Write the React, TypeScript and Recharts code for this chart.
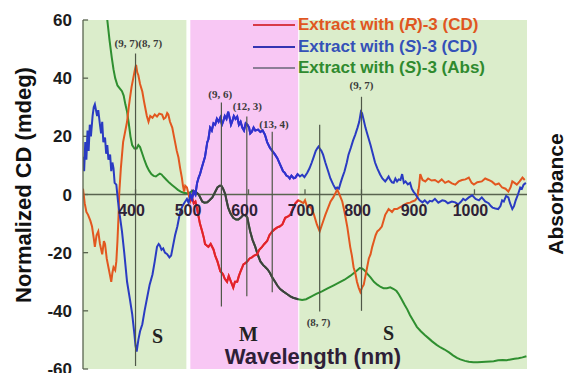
import React from 'react';
import { LineChart, Line, XAxis, YAxis, ReferenceArea, ReferenceLine, ReferenceDot } from 'recharts';

// wavelength (nm), normalized CD (mdeg)
const cdR: [number, number][] = [
  [307, 2], [310, -3], [313, -6], [316, -7], [320, -9], [323, -11], [326, -15], [328, -18], [331, -14],
  [334, -12.7], [337, -17], [341, -20.6], [344, -16], [346, -17], [349, -22], [352, -25], [355, -28],
  [357, -30], [359, -27], [361, -25], [364, -26], [366, -23], [368, -16], [370, -7], [371, 0], [374, 9],
  [378, 18], [381, 21], [385, 25], [388, 30], [390, 33], [393, 37], [396, 40], [399, 43], [401, 44.6],
  [403, 42], [405, 41], [408, 38], [412, 35.4], [415, 32], [417, 30], [420, 27], [423, 25], [426, 27],
  [430, 26.4], [434, 27.5], [438, 26.8], [442, 27.8], [447, 27.5], [450, 26], [453, 26.4], [456, 28],
  [458, 27.5], [461, 25], [465, 23], [468, 20], [470, 18], [473, 15], [476, 12.7], [479, 9], [482, 5.8],
  [484, 3], [486, 1], [488, 3], [491, 2.4], [494, 0], [497, -2.4], [500, -1], [503, -3], [506, -2.4],
  [509, -5], [511, -7], [514, -10], [518, -12.7], [521, -15], [523, -17], [526, -17.5], [529, -18],
  [533, -17], [538, -18.9], [541, -21], [545, -23], [548, -25], [550, -26.4], [553, -27], [555, -27.5],
  [558, -29], [562, -30], [565, -28], [568, -29.5], [571, -31], [573, -32], [576, -30], [580, -30],
  [583, -28], [586, -26.4], [589, -25], [591, -24], [595, -23.5], [598, -23], [602, -22], [606, -21.6],
  [610, -21], [615, -20.6], [619, -19], [624, -18], [628, -17], [633, -16], [637, -14], [642, -12.7],
  [646, -12], [651, -11.3], [655, -11], [660, -10.3], [665, -8], [670, -7.5], [674, -7], [679, -4.5],
  [683, -3], [688, -2], [692, -2.4], [697, -3], [700, -2], [704, -4.5], [708, -4], [712, -5], [716, -7],
  [721, -10.3], [726, -12.7], [729, -11], [732, -9.3], [736, -7], [741, -4.5], [745, -2.5], [750, -1],
  [754, 0.5], [757, 1.7], [761, 0], [766, -2.4], [770, -6], [775, -11.3], [780, -18], [783, -21],
  [786, -25], [789, -27], [792, -30], [795, -32], [798, -33.5], [801, -32], [804, -31], [807, -28],
  [810, -25], [813, -22], [816, -20.6], [819, -18], [822, -16], [825, -14], [828, -12.7], [832, -12],
  [836, -11], [839, -9], [842, -7], [845, -6], [848, -5], [851, -5.5], [854, -6], [858, -5], [863, -5],
  [867, -4.5], [872, -4], [876, -3.5], [881, -3], [886, -2.8], [890, -2.4], [895, -2], [899, -1],
  [902, 3], [904, 7], [908, 5], [913, 4.5], [918, 5.5], [924, 4.8], [930, 5], [936, 4.2], [942, 5.2],
  [948, 4], [954, 4.6], [960, 3.8], [966, 3.4], [972, 4.5], [978, 5], [984, 5.2], [990, 5.8], [995, 4],
  [999, 3.4], [1005, 4.2], [1013, 4.5], [1019, 5.5], [1025, 5], [1031, 4.4], [1037, 3.4], [1043, 3.8],
  [1049, 2.4], [1055, 2], [1060, 1], [1064, 2.5], [1067, 4.5], [1071, 4], [1075, 3.4], [1080, 4.5],
  [1085, 5.8], [1089, 5],
];

const cdS: [number, number][] = [
  [307, 13], [309, 8], [311, 18], [313, 12], [315, 22], [317, 15], [319, 24], [321, 20], [324, 27],
  [326, 30], [328, 31], [330, 29], [332, 27], [334, 29], [337, 24], [339, 21], [341, 25], [343, 18],
  [346, 19.6], [348, 14], [350, 17], [352, 12], [355, 13.7], [357, 8], [359, 11], [361, 9], [363, 4],
  [366, 3.4], [369, -2.4], [372, -7], [376, -12.7], [380, -20], [385, -30], [390, -36], [394, -41],
  [398, -48], [400, -52], [402, -54], [405, -50], [408, -47], [412, -44.6], [416, -40], [421, -35],
  [425, -31], [430, -27.5], [434, -23], [438, -18], [441, -17], [443, -17.5], [446, -19], [449, -18.5],
  [452, -20], [456, -20.5], [460, -21.6], [463, -21], [466, -18], [470, -14], [474, -11], [477, -8],
  [479, -6], [483, -4], [486, -3], [488, -2.4], [491, -1.5], [494, -3], [497, 0], [500, -1.5], [503, 1],
  [506, 0], [509, 4], [512, 6], [514, 6.9], [517, 9], [520, 11], [523, 13], [527, 18], [529, 19],
  [532, 23], [535, 22], [538, 24.5], [541, 24], [544, 26], [547, 25], [550, 26.4], [553, 24], [555, 25],
  [558, 27], [561, 26], [564, 28.5], [567, 26], [569, 24], [571, 25], [574, 27], [577, 26], [580, 26.8],
  [583, 24], [586, 25], [589, 23], [592, 22], [595, 24.5], [598, 24], [601, 23], [603, 21], [606, 21.6],
  [609, 23], [612, 22], [617, 22.3], [621, 21.5], [625, 22], [629, 20.6], [633, 18], [638, 16], [642, 15],
  [647, 13.7], [651, 12.5], [656, 10.3], [659, 9], [661, 8], [664, 7.5], [667, 6.5], [670, 6.2],
  [673, 5.5], [676, 6.5], [680, 5.6], [683, 5.8], [687, 7], [691, 6.2], [695, 6.8], [699, 6], [704, 7.5],
  [708, 9], [712, 11], [715, 12.7], [719, 15], [722, 16], [724, 16.5], [727, 15.5], [729, 15],
  [732, 13.7], [736, 11], [741, 8], [745, 5.5], [750, 3.4], [754, 2], [757, 2.4], [760, 2], [763, 4],
  [766, 5.8], [770, 8], [774, 11], [777, 13.7], [781, 16], [785, 18.5], [789, 20.6], [793, 23], [796, 25],
  [799, 28.5], [801, 28], [804, 25.5], [807, 23], [810, 21], [813, 19], [816, 17], [820, 14], [824, 11],
  [828, 9], [833, 6.9], [837, 5.5], [842, 4.5], [845, 5.3], [848, 6.2], [851, 5], [854, 4.2], [857, 4],
  [860, 5.5], [863, 4.5], [866, 5.2], [869, 5], [872, 7], [875, 4], [878, 4.5], [882, 3.5], [886, 4],
  [889, 2], [892, 1], [896, 0], [899, -1], [903, -2], [908, -2.7], [912, -2], [917, -3], [921, -2.2],
  [925, -2.4], [930, -1.5], [936, -2.8], [943, -2], [948, -2.2], [953, -3], [960, -2.4], [966, -2.7],
  [971, -3.4], [976, -2.5], [980, -1.5], [984, -2], [990, -1], [996, -0.3], [1002, -1.5], [1008, -2],
  [1013, -1], [1019, -2.4], [1025, -3], [1029, -4], [1032, -4.5], [1037, -4.8], [1042, -5], [1046, -4],
  [1049, -2], [1052, -2.4], [1056, -0.5], [1060, -1], [1063, -3], [1067, -5], [1070, -4], [1073, -2],
  [1077, 0], [1081, 2.4], [1084, 2], [1087, 3.4], [1091, 4],
];

// absorbance, drawn on the CD scale like the original overlay
const absS: [number, number][] = [
  [345, 66], [350, 60], [354, 53], [358, 47], [361, 43], [364, 40], [368, 37.5], [372, 36.5],
  [376, 35.5], [379, 34], [382, 31], [385, 28.5], [388, 24.5], [391, 20], [394, 17], [398, 15.8],
  [402, 15.8], [405, 17], [408, 16.3], [412, 14], [416, 11.7], [420, 9.7], [424, 8.2], [428, 7],
  [432, 6.4], [436, 6.2], [440, 6.8], [443, 7.2], [446, 6.9], [450, 6], [455, 5], [460, 4], [465, 3.2],
  [470, 2.4], [475, 1.6], [480, 1], [485, 0.6], [490, 0.4], [495, 0.5], [500, 1.2], [506, 1],
  [512, 0], [518, -2.4], [522, -2.8], [527, -2.7], [531, -2], [536, -1], [540, 0.5], [545, 2.4],
  [549, 3], [552, 3], [555, 2], [559, 0], [561, -2], [564, -4.5], [568, -6.5], [573, -8], [578, -8.6],
  [582, -8.6], [587, -7.8], [591, -7], [595, -7.2], [598, -8], [600, -10], [603, -12.7], [607, -15.5],
  [612, -18], [616, -20.5], [621, -23], [626, -24.3], [630, -25], [634, -25.8], [638, -27], [642, -28.5],
  [647, -30], [651, -31.3], [656, -32.5], [662, -33.4], [668, -34.2], [674, -35], [679, -35.5],
  [688, -36], [695, -36.3], [702, -36], [710, -35.2], [720, -34.2], [730, -33.3], [740, -32.3],
  [750, -31.3], [760, -30.3], [770, -29.3], [780, -28], [790, -26.5], [797, -25.3], [801, -25.4],
  [805, -26], [810, -27.2], [816, -28.5], [822, -30], [828, -31], [834, -31.8], [839, -32.2],
  [845, -32.2], [851, -31.9], [857, -32.5], [862, -33.2], [866, -34.3], [871, -36], [876, -37.8],
  [881, -39.5], [886, -41.5], [892, -43.5], [898, -45.5], [905, -47], [912, -48.3], [918, -49.3],
  [925, -50.5], [933, -51.7], [940, -52.6], [947, -53.3], [955, -54.3], [962, -55.3], [969, -56.2],
  [975, -56.7], [983, -57.2], [990, -57.5], [998, -57.7], [1005, -57.7], [1013, -57.6], [1020, -57.5],
  [1028, -57.4], [1034, -57.3], [1042, -57], [1050, -56.9], [1057, -57], [1064, -56.7], [1071, -56.5],
  [1078, -56.3], [1085, -56], [1092, -55.6],
];

const xTicks = [400, 500, 600, 700, 800, 900, 1000];
const yTicks = [-60, -40, -20, 0, 20, 40, 60];
const absTicks = [0, 1, 2, 3, 4, 5, 6, 7, 8];

// chirality assignments: wavelength, line top / bottom (mdeg), label
const assignments = [
  { nm: 400, top: 48.5, bottom: -59, label: '(9, 7)(8, 7)', lx: 405, ly: 52.2 },
  { nm: 552, top: 31.6, bottom: -38.5, label: '(9, 6)', lx: 550, ly: 34.4 },
  { nm: 597, top: 26.8, bottom: -35, label: '(12, 3)', lx: 598, ly: 30.3 },
  { nm: 642, top: 21.6, bottom: -33.6, label: '(13, 4)', lx: 645, ly: 24.1 },
  { nm: 726, top: 24, bottom: -40.2, label: '(8, 7)', lx: 724, ly: -44 },
  { nm: 800, top: 33.6, bottom: -40, label: '(9, 7)', lx: 800, ly: 37.8 },
];

const regions = [
  { from: 307, to: 490, name: 'S', lx: 439, ly: -48.8, fill: '#dbedcb' },
  { from: 497, to: 688, name: 'M', lx: 600, ly: -48.1, fill: '#f8c7f4' },
  { from: 690, to: 1093, name: 'S', lx: 848, ly: -47.5, fill: '#dbedcb' },
];

const PINK_FROM = 497;
const PINK_TO = 688;
const AXIS = '#59644f';
const SANS = '"Liberation Sans", Arial, sans-serif';
const SERIF = '"Liberation Serif", "Times New Roman", serif';

const toRows = (pts: [number, number][]) => pts.map(([x, v]) => ({ x, v }));
const inPink = (pts: [number, number][]) => toRows(pts.filter(([x]) => x >= PINK_FROM && x <= PINK_TO));

const Tag = (props: any) => {
  const { viewBox, text, dx = 0, size = 11, color = '#3b3b3b', font = SERIF, weight = 700 } = props;
  if (!viewBox) return null;
  const cx = viewBox.x + (viewBox.width || 0) / 2;
  const cy = viewBox.y + (viewBox.height || 0) / 2;
  return (
    <text x={cx + dx} y={cy} textAnchor="middle" dominantBaseline="central"
      fontFamily={font} fontWeight={weight} fontSize={size} fill={color}>
      {text}
    </text>
  );
};

const legendRows = [
  { line: '#d83a48', color: '#e0561f', pre: 'Extract with (', it: 'R', post: ')-3 (CD)' },
  { line: '#3535b2', color: '#3451b8', pre: 'Extract with (', it: 'S', post: ')-3 (CD)' },
  { line: '#8c7e96', color: '#2f8a2f', pre: 'Extract with (', it: 'S', post: ')-3 (Abs)' },
];

export default function App() {
  return (
    <div style={{ position: 'absolute', left: 0, top: 0, width: 569, height: 373, background: '#fff', overflow: 'hidden' }}>
      <LineChart width={569} height={373} margin={{ top: 20, right: 42, bottom: 4, left: 0 }}>
        <XAxis type="number" dataKey="x" domain={[307, 1093]} allowDataOverflow hide />
        <YAxis
          domain={[-60, 60]}
          ticks={yTicks}
          interval={0}
          allowDataOverflow
          width={83}
          tickLine={false}
          tickSize={6}
          tickMargin={5}
          axisLine={{ stroke: AXIS, strokeWidth: 1.3 }}
          tick={{ fill: '#1c1c1c', fontSize: 17, fontWeight: 700, fontFamily: SANS }}
        />
        <YAxis yAxisId="r" orientation="right" domain={[-0.35, 8]} width={0} tick={false} tickLine={false}
          axisLine={{ stroke: AXIS, strokeWidth: 1.3 }} />

        {regions.map((r, i) => (
          <ReferenceArea key={'ra' + i} x1={r.from} x2={r.to} y1={-60} y2={60} fill={r.fill} fillOpacity={1} stroke="none" />
        ))}

        <ReferenceLine y={0} stroke={AXIS} strokeWidth={1.3} />
        {xTicks.map((t) => (
          <ReferenceLine key={'xt' + t} segment={[{ x: t, y: 0 }, { x: t, y: 1.8 }]} stroke={AXIS} strokeWidth={1.3} />
        ))}
        {yTicks.map((t) => (
          <ReferenceLine key={'yt' + t} segment={[{ x: 307, y: t }, { x: 316, y: t }]} stroke={AXIS} strokeWidth={1.3} />
        ))}
        {absTicks.map((t) => (
          <ReferenceLine key={'at' + t} yAxisId="r" segment={[{ x: 1084, y: t }, { x: 1093, y: t }]} stroke={AXIS} strokeWidth={1.3} />
        ))}
        {xTicks.map((t) => (
          <ReferenceDot key={'xl' + t} x={t} y={-5.5} r={0} fill="none" stroke="none"
            label={<Tag text={String(t)} dx={-4} size={16} font={SANS} color="#2f2236" />} />
        ))}

        <Line data={toRows(absS)} dataKey="v" stroke="#2f8f30" strokeWidth={2} dot={false} isAnimationActive={false} />
        <Line data={inPink(absS)} dataKey="v" stroke="#3f3f3f" strokeWidth={2} dot={false} isAnimationActive={false} />
        <Line data={toRows(cdR)} dataKey="v" stroke="#e2571f" strokeWidth={2} dot={false} isAnimationActive={false} />
        <Line data={inPink(cdR)} dataKey="v" stroke="#e3202e" strokeWidth={2} dot={false} isAnimationActive={false} />
        <Line data={toRows(cdS)} dataKey="v" stroke="#2a3bc2" strokeWidth={2} dot={false} isAnimationActive={false} />
        <Line data={inPink(cdS)} dataKey="v" stroke="#3131cf" strokeWidth={2} dot={false} isAnimationActive={false} />

        {assignments.map((a, i) => (
          <ReferenceLine key={'al' + i} segment={[{ x: a.nm, y: a.top }, { x: a.nm, y: a.bottom }]} stroke="#4f5748" strokeWidth={1.2} />
        ))}
        {assignments.map((a, i) => (
          <ReferenceDot key={'ad' + i} x={a.lx} y={a.ly} r={0} fill="none" stroke="none" label={<Tag text={a.label} />} />
        ))}
        {regions.map((r, i) => (
          <ReferenceDot key={'rd' + i} x={r.lx} y={r.ly} r={0} fill="none" stroke="none"
            label={<Tag text={r.name} size={20} color="#222" />} />
        ))}
      </LineChart>

      {legendRows.map((r, i) => (
        <div key={i} style={{ position: 'absolute', left: 253, top: 14 + i * 21.5, height: 22, display: 'flex', alignItems: 'center',
          fontFamily: SANS, fontWeight: 700, fontSize: 17, color: r.color, whiteSpace: 'nowrap' }}>
          <div style={{ width: 42, height: 2, background: r.line, marginRight: 3 }} />
          <span>{r.pre}<i>{r.it}</i>{r.post}</span>
        </div>
      ))}

      <div style={{ position: 'absolute', left: 24 - 150, top: 185 - 13, width: 300, height: 26, lineHeight: '26px', textAlign: 'center',
        transform: 'rotate(-90deg)', fontFamily: SANS, fontWeight: 700, fontSize: 22, color: '#111' }}>
        Normalized CD (mdeg)
      </div>
      <div style={{ position: 'absolute', left: 556 - 100, top: 194 - 13, width: 200, height: 26, lineHeight: '26px', textAlign: 'center',
        transform: 'rotate(-90deg)', fontFamily: SANS, fontWeight: 700, fontSize: 21, color: '#111' }}>
        Absorbance
      </div>
      <div style={{ position: 'absolute', left: 313 - 120, top: 344, width: 240, height: 26, lineHeight: '26px', textAlign: 'center',
        fontFamily: SANS, fontWeight: 700, fontSize: 22, color: '#2e1f38' }}>
        Wavelength (nm)
      </div>
    </div>
  );
}
